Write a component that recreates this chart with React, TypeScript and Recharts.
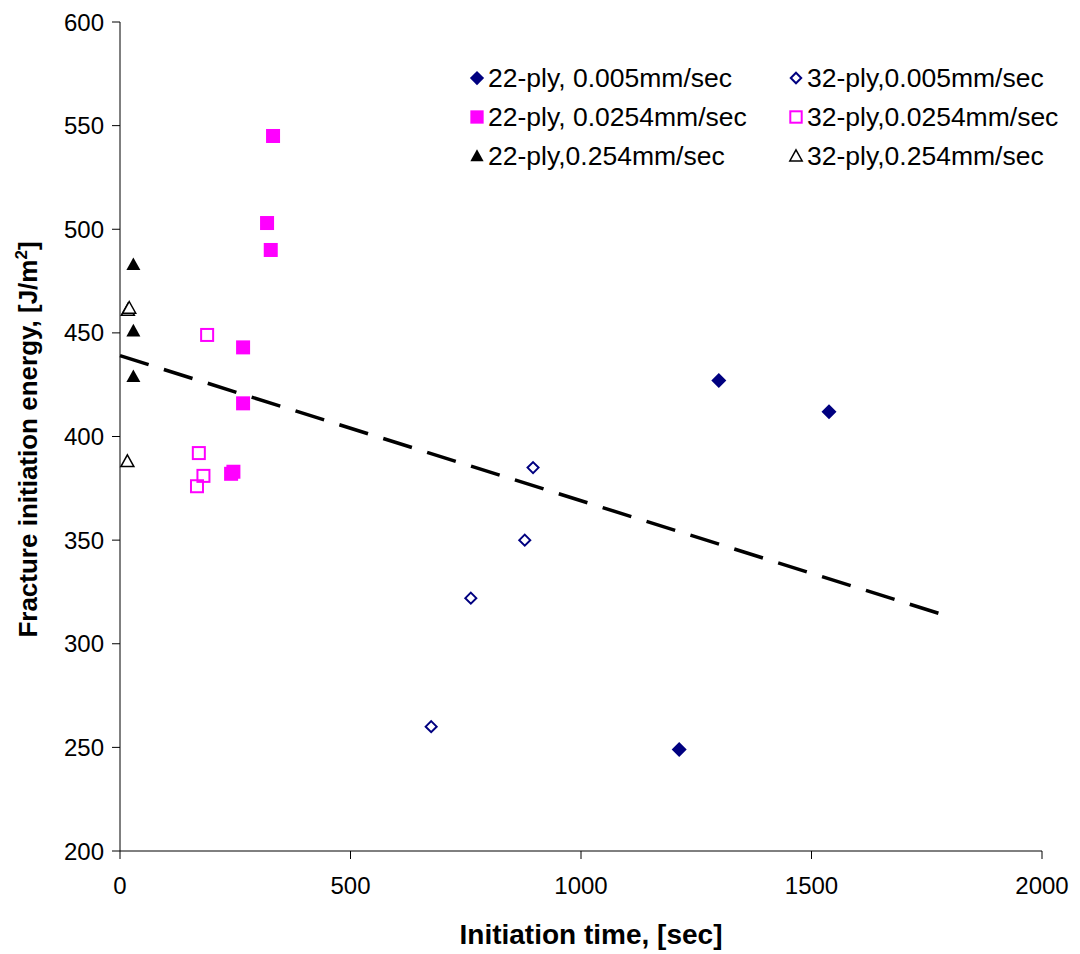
import React from 'react';
import {
    ScatterChart,
    Scatter,
    XAxis,
    YAxis,
} from 'recharts';

// time [sec] / energy [J/m2]
const ply22Slow_x = [1299, 1538, 1213];
const ply22Slow_y = [427, 412, 249];
const ply32Slow_x = [675, 761, 878, 896];
const ply32Slow_y = [260, 322, 350, 385];
const ply22Mid_x = [332, 319, 327, 267, 267, 241, 246];
const ply22Mid_y = [545, 503, 490, 443, 416, 382, 383];
const ply32Mid_x = [189, 171, 181, 167];
const ply32Mid_y = [449, 392, 381, 376];
const ply22Fast_x = [29, 29, 29];
const ply22Fast_y = [483, 451, 429];
const ply32Fast_x = [17, 20, 16];
const ply32Fast_y = [461, 462, 388];
const trend_x = [0, 1800];
const trend_y = [439, 313];

const xTicks = [0, 500, 1000, 1500, 2000];
const yTicks = [200, 250, 300, 350, 400, 450, 500, 550, 600];

const FONT = '"Liberation Sans", Arial, sans-serif';
const NAVY = '#000080';
const MAGENTA = '#ff00ff';

type Kind = 'diamond' | 'diamondOpen' | 'square' | 'squareOpen' | 'triangle' | 'triangleOpen';

const seriesList: { name: string; kind: Kind; xs: number[]; ys: number[] }[] = [
    { name: '22-ply, 0.005mm/sec', kind: 'diamond', xs: ply22Slow_x, ys: ply22Slow_y },
    { name: '32-ply,0.005mm/sec', kind: 'diamondOpen', xs: ply32Slow_x, ys: ply32Slow_y },
    { name: '22-ply, 0.0254mm/sec', kind: 'square', xs: ply22Mid_x, ys: ply22Mid_y },
    { name: '32-ply,0.0254mm/sec', kind: 'squareOpen', xs: ply32Mid_x, ys: ply32Mid_y },
    { name: '22-ply,0.254mm/sec', kind: 'triangle', xs: ply22Fast_x, ys: ply22Fast_y },
    { name: '32-ply,0.254mm/sec', kind: 'triangleOpen', xs: ply32Fast_x, ys: ply32Fast_y },
];

const toPoints = (xs: number[], ys: number[]) => xs.map((x, i) => ({ x, y: ys[i] }));

const Marker = ({ kind, cx, cy, s = 1 }: { kind: Kind; cx: number; cy: number; s?: number }) => {
    if (cx == null || cy == null) return null;
    switch (kind) {
        case 'diamond': {
            const r = 7.5 * s;
            return <polygon points={`${cx},${cy - r} ${cx + r},${cy} ${cx},${cy + r} ${cx - r},${cy}`} fill={NAVY} />;
        }
        case 'diamondOpen': {
            const r = 5.5 * s;
            return <polygon points={`${cx},${cy - r} ${cx + r},${cy} ${cx},${cy + r} ${cx - r},${cy}`} fill="none" stroke={NAVY} strokeWidth={2} />;
        }
        case 'square': {
            const h = 7 * s;
            return <rect x={cx - h} y={cy - h} width={2 * h} height={2 * h} fill={MAGENTA} />;
        }
        case 'squareOpen': {
            const h = 6 * s;
            return <rect x={cx - h} y={cy - h} width={2 * h} height={2 * h} fill="none" stroke={MAGENTA} strokeWidth={2} />;
        }
        case 'triangle': {
            const w = 7 * s;
            return <polygon points={`${cx},${cy - w} ${cx + w},${cy + w * 0.8} ${cx - w},${cy + w * 0.8}`} fill="#000" />;
        }
        case 'triangleOpen': {
            const w = 6.5 * s;
            return <polygon points={`${cx},${cy - w} ${cx + w},${cy + w * 0.8} ${cx - w},${cy + w * 0.8}`} fill="#fff" stroke="#000" strokeWidth={1.5} />;
        }
    }
    return null;
};

// legend sits inside the plot, top right, 2 columns x 3 rows
const LegendBox = () => (
    <div
        style={{
            position: 'absolute',
            left: 469,
            top: 64,
            display: 'grid',
            gridTemplateColumns: '319px 290px',
            rowGap: 11,
            fontFamily: FONT,
            fontSize: 26.5,
            color: '#000',
        }}
    >
        {seriesList.map(s => (
            <div key={s.name} style={{ display: 'flex', alignItems: 'center', height: 28, whiteSpace: 'pre' }}>
                <svg width={16} height={16} style={{ marginRight: 3 }}>
                    <Marker kind={s.kind} cx={8} cy={8} s={0.95} />
                </svg>
                <span>{s.name}</span>
            </div>
        ))}
    </div>
);

const App: React.FC = () => {
    return (
        <div style={{ position: 'absolute', left: 0, top: 0, width: 1080, height: 954, background: '#fff' }}>
            <ScatterChart width={1080} height={954} margin={{ top: 22, right: 38, left: 0, bottom: 0 }}>
                <XAxis
                    type="number"
                    dataKey="x"
                    domain={[0, 2000]}
                    ticks={xTicks}
                    height={103}
                    stroke="#000"
                    tickSize={8}
                    tickMargin={18}
                    tick={{ fill: '#000', fontSize: 24, fontFamily: FONT }}
                    label={{
                        content: (props: any) => {
                            const vb = props.viewBox;
                            return (
                                <text x={vb.x + vb.width / 2 + 10} y={vb.y + 93} textAnchor="middle" fontFamily={FONT} fontSize={28} fontWeight="bold" fill="#000">
                                    Initiation time, [sec]
                                </text>
                            );
                        },
                    }}
                />
                <YAxis
                    type="number"
                    dataKey="y"
                    domain={[200, 600]}
                    ticks={yTicks}
                    width={120}
                    stroke="#000"
                    tickSize={8}
                    tickMargin={8}
                    tick={{ fill: '#000', fontSize: 24, fontFamily: FONT }}
                    label={{
                        content: (props: any) => {
                            const vb = props.viewBox;
                            const cx = 37;
                            const cy = vb.y + vb.height / 2 + 3;
                            return (
                                <text x={cx} y={cy} transform={`rotate(-90 ${cx} ${cy})`} textAnchor="middle" fontFamily={FONT} fontSize={26} fontWeight="bold" fill="#000">
                                    Fracture initiation energy, [J/m<tspan dy={-10} fontSize={17}>2</tspan><tspan dy={10}>]</tspan>
                                </text>
                            );
                        },
                    }}
                />
                <Scatter
                    name="trend"
                    data={toPoints(trend_x, trend_y)}
                    line={{ stroke: '#000', strokeWidth: 3.5, strokeDasharray: '30 16' }}
                    shape={() => null}
                    legendType="none"
                    isAnimationActive={false}
                />
                {seriesList.map(s => (
                    <Scatter
                        key={s.name}
                        name={s.name}
                        data={toPoints(s.xs, s.ys)}
                        shape={(p: any) => <Marker kind={s.kind} cx={p.cx} cy={p.cy} />}
                        isAnimationActive={false}
                    />
                ))}
            </ScatterChart>
            <LegendBox />
        </div>
    );
};

export default App;
